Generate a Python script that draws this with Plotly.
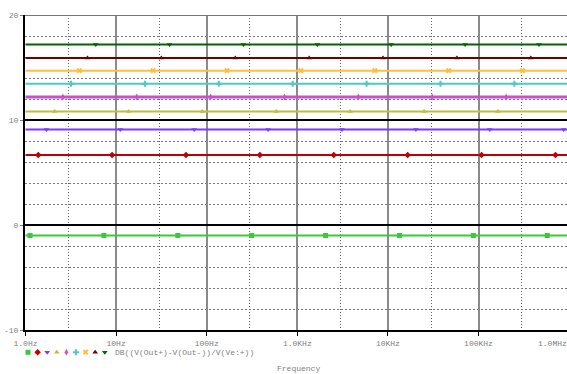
import plotly.graph_objects as go

# ---- data (gain in dB, flat over frequency) ----
gains_db = [-1.0, 6.67, 9.1, 10.8, 12.2, 13.45, 14.7, 15.9, 17.2]
colors = ["#3CC83C", "#C00000", "#7B3CFF", "#BEBE3C", "#C850C8",
          "#50C8C8", "#FFBE3C", "#700000", "#006400"]
symbols = ["square", "diamond", "triangle-down", "triangle-up", "diamond-tall",
           "cross", "x", "triangle-up", "triangle-down"]
freq_span = [1.0, 1e6]
tick_freqs = [1, 10, 100, 1e3, 1e4, 1e5]
tick_labels = ["1.0Hz", "10Hz", "100Hz", "1.0KHz", "10KHz", "100KHz"]
minor_freqs = [3, 30, 300, 3e3, 3e4, 3e5]
y_major = [-10, 0, 10, 20]
y_tick_labels = ["-10", "0", "10", "20"]
trace_label = "DB((V(Out+)-V(Out-))/V(Ve:+))"

FONT = "Liberation Mono"
GRAY = "#808080"

fig = go.Figure()

# marker placement pattern (PSpice style: markers spaced along the trace, offset per trace)
first_dec, trace_off, mark_step, max_dec = 0.05, 0.0906, 0.8155, 5.975

for k, (g, c, s) in enumerate(zip(gains_db, colors, symbols)):
    fig.add_trace(go.Scatter(x=freq_span, y=[g, g], mode="lines",
                             line=dict(color=c, width=2 if k != 4 else 3),
                             showlegend=False, hoverinfo="skip"))
    mx = []
    d = first_dec + trace_off * k
    while d <= max_dec:
        mx.append(10 ** d)
        d += mark_step
    fig.add_trace(go.Scatter(x=mx, y=[g] * len(mx), mode="markers",
                             marker=dict(symbol=s, color=c, size=5,
                                         line=dict(width=0)),
                             showlegend=False, hoverinfo="skip"))
    # legend row marker
    fig.add_trace(go.Scatter(x=[k], y=[0.5], mode="markers", xaxis="x2", yaxis="y2",
                             marker=dict(symbol=s, color=c, size=5, line=dict(width=0)),
                             showlegend=False, hoverinfo="skip"))

W, H = 567, 374
L, T = 25, 15
plot_bottom = 330
ydom0 = (H - plot_bottom) / (H - T)
dec_px = 90.6
x0_px = 25.5
xr = [(L - x0_px) / dec_px, (W - x0_px) / dec_px]

fig.update_layout(
    width=W, height=H, autosize=False,
    margin=dict(l=L, r=0, t=T, b=0, pad=0),
    paper_bgcolor="white", plot_bgcolor="white",
    font=dict(family=FONT, size=8, color=GRAY),
    showlegend=False,
    xaxis=dict(type="log", range=xr, domain=[0, 1], anchor="y", automargin=False,
               tickmode="array", tickvals=tick_freqs, ticktext=tick_labels,
               showgrid=True, gridcolor="#8a8a8a", gridwidth=2,
               showline=True, linecolor="black", linewidth=2,
               ticks="outside", ticklen=4, tickcolor="black", tickwidth=1,
               tickfont=dict(family=FONT, size=8, color=GRAY),
               zeroline=False,
               minor=dict(tickmode="array", tickvals=minor_freqs, showgrid=True,
                          gridcolor="#666666", gridwidth=1, griddash="1px,2px",
                          ticks="")),
    yaxis=dict(range=[-10, 20], domain=[ydom0, 1], anchor="x", automargin=False,
               tickmode="array", tickvals=y_major, ticktext=y_tick_labels,
               showgrid=True, gridcolor="black", gridwidth=1.5,
               zeroline=True, zerolinecolor="black", zerolinewidth=1.5,
               showline=True, linecolor="black", linewidth=2,
               ticks="outside", ticklen=3, tickcolor=GRAY, tickwidth=1,
               tickfont=dict(family=FONT, size=8, color=GRAY),
               minor=dict(dtick=2, tick0=0, showgrid=True, gridcolor="#777777",
                          gridwidth=1, griddash="2px,2px", ticks="")),
    xaxis2=dict(domain=[0, 1], anchor="y2", range=[-0.3125, 56.15], visible=False,
                automargin=False),
    yaxis2=dict(domain=[0, ydom0 - 0.001], anchor="x2", range=[0, 1], visible=False,
                automargin=False),
)

# gray top border at 20
fig.add_shape(type="line", xref="paper", yref="y", x0=0, x1=1, y0=20, y1=20,
              line=dict(color="#777777", width=2))

fig.add_annotation(text=trace_label, xref="x2", yref="y2", x=8.85, y=0.5,
                   xanchor="left", yanchor="middle", showarrow=False,
                   font=dict(family=FONT, size=8, color=GRAY))
fig.add_annotation(text="Frequency", xref="paper", yref="y2",
                   x=(298 - L) / (W - L), y=0.12, xanchor="center", yanchor="middle",
                   showarrow=False, font=dict(family=FONT, size=8, color=GRAY))
fig.add_annotation(text="1.0MHz", xref="paper", yref="y2",
                   x=(536 - L) / (W - L), y=0.70, xanchor="left", yanchor="middle",
                   showarrow=False, font=dict(family=FONT, size=8, color=GRAY))

fig.write_html("out.html")
